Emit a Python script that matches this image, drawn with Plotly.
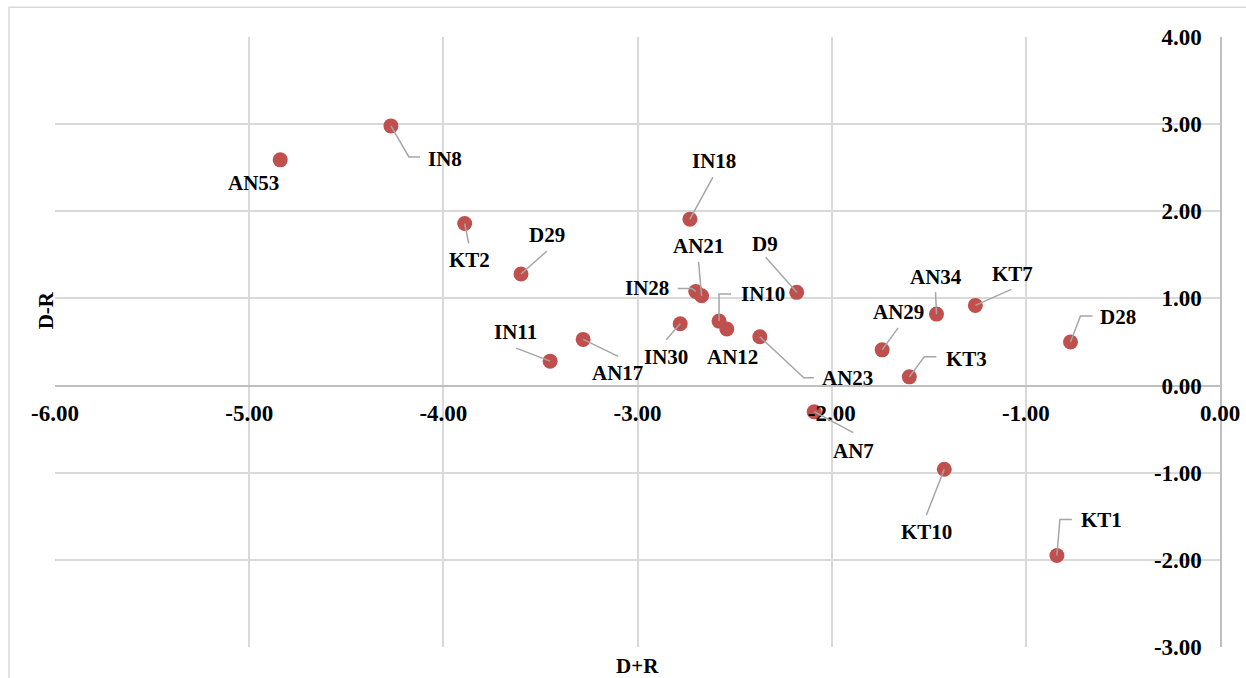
import plotly.graph_objects as go

# ---- data ----
names = ["AN53", "IN8", "KT2", "D29", "IN11", "AN17", "IN18", "AN21", "IN28", "IN30", "IN10",
         "AN12", "D9", "AN23", "AN7", "AN29", "KT3", "AN34", "KT7", "D28", "KT10", "KT1"]
d_plus_r = [-4.84, -4.27, -3.89, -3.60, -3.45, -3.28, -2.73, -2.67, -2.70, -2.78, -2.58,
            -2.54, -2.18, -2.37, -2.09, -1.74, -1.60, -1.46, -1.26, -0.77, -1.42, -0.84]
d_minus_r = [2.59, 2.98, 1.86, 1.28, 0.28, 0.53, 1.91, 1.03, 1.08, 0.71, 0.74,
             0.65, 1.07, 0.56, -0.30, 0.41, 0.10, 0.82, 0.92, 0.50, -0.96, -1.95]

x_ticks = [-6, -5, -4, -3, -2, -1, 0]
y_ticks = [-3, -2, -1, 0, 1, 2, 3, 4]
x_ticktext = ["-6.00", "-5.00", "-4.00", "-3.00", "-2.00", "-1.00", "0.00"]
y_ticktext = ["-3.00", "-2.00", "-1.00", "0.00", "1.00", "2.00", "3.00", "4.00"]

# ---- label placement (pixel offsets from each point, y up) ----
label_dx = [-27, 54, 5, 26, -35, 34, 24, -3, -49, -14, 44, 6, -32, 88, 39, 16, 57, -1, 37, 48, -18, 45]
label_dy = [-23, -33, -37, 39, 29, -34, 58, 50, 3, -33, 27, -28, 48, -41, -39, 38, 18, 37, 31, 25, -63, 36]
leader_paths = [None, "M0,0 L18,-31 L29,-31", "M0,0 L4,-20", "M0,0 L26,23", "M0,0 L-34,13",
                "M0,0 L35,-17", "M0,0 L23,42", "M0,0 L-3,34", "M0,0 L-4,3 L-18,3",
                "M0,0 L-14,-16", "M0,0 L0,27 L12,27", None, "M0,0 L-31,35",
                "M0,0 L44,-41 L54,-41", "M0,0 L39,-21", "M0,0 L16,22", "M0,0 L15,20 L27,20",
                "M0,0 L-1,22", "M0,0 L36,16", "M0,0 L10,26 L22,26", "M0,0 L-18,-46",
                "M0,0 L3,36 L15,36"]

FONT = "Liberation Serif, Times New Roman, serif"

fig = go.Figure()
fig.add_trace(go.Scatter(
    x=d_plus_r, y=d_minus_r, mode="markers", text=names,
    marker=dict(size=15, color="#C0504D", line=dict(width=0)),
    hoverinfo="text+x+y", showlegend=False,
))

shapes = []
for xv, yv, p in zip(d_plus_r, d_minus_r, leader_paths):
    if p is None:
        continue
    shapes.append(dict(type="path", xref="x", yref="y", xsizemode="pixel", ysizemode="pixel",
                       xanchor=xv, yanchor=yv, path=p,
                       line=dict(color="#a6a6a6", width=1.5), layer="above"))

# outer chart border (only top/left visible in the frame)
shapes.append(dict(type="rect", xref="paper", yref="paper",
                   x0=-0.0395, x1=1.2, y0=-0.2, y1=1.0487,
                   line=dict(color="#d9d9d9", width=1.5), layer="below"))

annotations = []
for n, xv, yv, dx, dy in zip(names, d_plus_r, d_minus_r, label_dx, label_dy):
    annotations.append(dict(x=xv, y=yv, xref="x", yref="y", text=n, showarrow=False,
                            xshift=dx, yshift=dy, xanchor="center", yanchor="middle",
                            font=dict(family=FONT, size=21, color="black", weight="bold")))

annotations.append(dict(text="D+R", xref="paper", yref="paper", x=0.5, y=-0.031,
                        xanchor="center", yanchor="middle", showarrow=False,
                        font=dict(family=FONT, size=21, color="black", weight="bold")))
annotations.append(dict(text="D-R", xref="paper", yref="paper", x=-0.0077, y=0.552,
                        xanchor="center", yanchor="middle", showarrow=False, textangle=-90,
                        font=dict(family=FONT, size=21, color="black", weight="bold")))

fig.update_layout(
    template="none",
    width=1246, height=678,
    margin=dict(l=55, r=26, t=37, b=31, autoexpand=False),
    paper_bgcolor="white", plot_bgcolor="white",
    shapes=shapes, annotations=annotations,
    xaxis=dict(range=[-6, 0], tickvals=x_ticks, ticktext=x_ticktext, automargin=False,
               showgrid=True, gridcolor="#d9d9d9", gridwidth=1.5,
               zeroline=False, showline=True, linecolor="#bfbfbf", linewidth=1.5,
               anchor="free", position=3 / 7, ticks="",
               ticklabelstandoff=7,
               tickfont=dict(family=FONT, size=23, color="black", weight="bold")),
    yaxis=dict(range=[-3, 4], tickvals=y_ticks, ticktext=y_ticktext, automargin=False,
               showgrid=True, gridcolor="#d9d9d9", gridwidth=1.5,
               zeroline=False, showline=True, linecolor="#bfbfbf", linewidth=1.5,
               side="right", ticklabelposition="inside", ticklabeloverflow="allow",
               ticks="", ticklabelstandoff=20,
               tickfont=dict(family=FONT, size=23, color="black", weight="bold")),
)

fig.write_html("out.html", config={"displayModeBar": False},
               post_script="document.body.style.margin='0';document.body.style.overflow='hidden';")
